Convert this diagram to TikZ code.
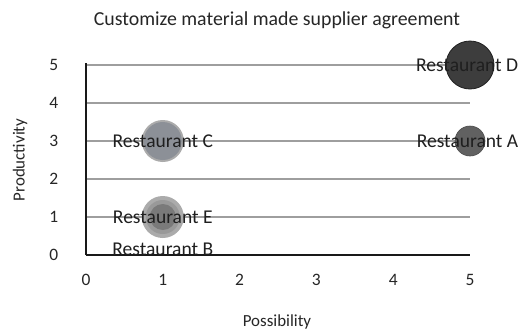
\documentclass[tikz,border=0pt]{standalone}
\usepackage{fontspec}
\setmainfont{Carlito}
\begin{document}
\begin{tikzpicture}[x=1bp,y=-1bp,
  grid/.style={draw=black!38, line width=1.6bp},
  axisline/.style={draw=black!90, line width=1.6bp},
  tick/.style={font=\fontsize{17.5}{17.5}\selectfont, text=black!85},
  pointlabel/.style={font=\fontsize{19.6}{19.6}\selectfont, text=black!88, inner sep=0pt},
  bubble/.style={circle, inner sep=0pt}]
\useasboundingbox (0,0) rectangle (520,331);
\fill[white] (0,0) rectangle (520,331);

\node[font=\fontsize{19.9}{19.9}\selectfont, text=black!85] (title) at (277,20) {Customize material made supplier agreement};

\begin{scope}[shift={(86,255)}, x=76.8bp, y=38bp]
  % horizontal grid lines
  \foreach \k in {1,...,5} {
    \coordinate (gl\k) at (0,\k);
    \coordinate (gr\k) at (5,\k);
    \draw[grid] (gl\k) -- (gr\k);
  }
  % axes
  \coordinate (origin) at (0,0);
  \coordinate (xend) at (5,0);
  \coordinate (yend) at (0,5.05);
  \draw[axisline] (origin) -- (xend);
  \draw[axisline] (origin) -- (yend);

  % tick labels
  \foreach \k in {0,...,5} {
    \node[tick] (xt\k) at (\k,-0.66) {\k};
    \node[tick] (yt\k) at (-0.42,\k) {\k};
  }

  % bubbles
  \node[bubble, minimum size=48bp, fill=black!76, draw=black!88, line width=0.8bp] (bD) at (5,5) {};
  \node[bubble, minimum size=30bp, fill=black!62, draw=black!70, line width=0.6bp] (bA) at (5,3) {};
  \node[bubble, minimum size=42bp, fill=black!33] (bCo) at (1,3) {};
  \node[bubble, minimum size=38bp, fill={rgb,255:red,140;green,144;blue,151}] (bC) at (1,3) {};
  \node[bubble, minimum size=42bp, fill=black!33] (bEo) at (1,1) {};
  \node[bubble, minimum size=34bp, fill=black!40] (bEm) at (1,1) {};
  \node[bubble, minimum size=26bp, fill=black!52] (bE) at (1,1) {};

  % point labels (the two at the right edge are kept inside the frame)
  \node[pointlabel, anchor=east] (lD) at (5.63,5) {Restaurant D};
  \node[pointlabel, anchor=east] (lA) at (5.63,3) {Restaurant A};
  \node[pointlabel] (lC) at (1,3) {Restaurant C};
  \node[pointlabel] (lE) at (1,1) {Restaurant E};
  \node[pointlabel] (lB) at (1,0.14) {Restaurant B};
\end{scope}

\node[font=\fontsize{17}{17}\selectfont, text=black!85] (xlab) at (277,322) {Possibility};
\node[font=\fontsize{17}{17}\selectfont, text=black!85, rotate=90] (ylab) at (20,160) {Productivity};
\end{tikzpicture}
\end{document}
